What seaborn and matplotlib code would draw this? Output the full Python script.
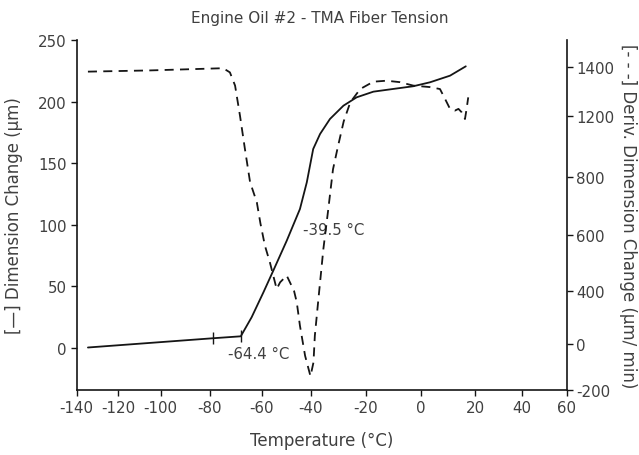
import numpy as np
import pandas as pd
import matplotlib
matplotlib.use("Agg")
import matplotlib.pyplot as plt
import seaborn as sns

# ---------------- data ----------------
temp_ticks = [-140, -120, -100, -80, -60, -40, -20, 0, 20, 40, 60]
dim_ticks = [0, 50, 100, 150, 200, 250]
deriv_ticks = [-200, 0, 400, 600, 800, 1200, 1400]

# solid curve: Dimension Change (um)
dim_temp = [-134.6, -79.0, -68.1, -63.9, -59.3, -55.3, -49.8, -44.4, -41.6, -39.1,
            -36.6, -33.0, -28.1, -23.3, -17.2, -10.0, -2.7, 3.4, 10.8, 16.6]
dim_val = [0.0, 7.5, 9.1, 24.6, 44.9, 62.4, 86.8, 112.6, 134.3, 161.4,
           173.6, 185.8, 196.6, 203.4, 208.0, 210.2, 212.4, 215.6, 221.0, 228.6]

# dashed curve: Deriv. Dimension Change (um/min)
deriv_temp = [-134.6, -105.0, -74.9, -72.3, -70.3, -68.4, -66.5, -64.5, -61.9, -60.5,
              -58.7, -56.6, -53.9, -52.5, -49.8, -46.8, -45.7, -44.4, -42.3, -40.1,
              -39.0, -38.5, -37.2, -35.4, -33.6, -31.9, -30.1, -28.0, -25.6, -22.0,
              -17.2, -12.4, -7.5, -2.7, 3.4, 7.1, 9.0, 10.8, 12.6, 13.9,
              15.1, 16.3, 16.9, 17.5]
deriv_val = [1381, 1386, 1395, 1378, 1324, 1201, 984, 782, 713, 640,
             562, 500, 407, 431, 455, 400, 315, 138, -51, -140,
             -80, 63, 340, 550, 690, 850, 1000, 1165, 1256, 1310,
             1340, 1344, 1338, 1324, 1318, 1310, 1269, 1229, 1222, 1229,
             1215, 1180, 1229, 1276]

# onset analysis marks on the solid curve
mark_temp = [-79.0, -68.1]
mark_val = [7.5, 9.1]

onset_labels = ["-64.4 °C", "-39.5 °C"]
onset_label_temp = [-61.0, -31.5]
onset_label_val = [-4.5, 96.3]

# tick placement along the (non-uniform) printed axes, as axis fractions
temp_tick_frac = [0.0, 0.0849, 0.1714, 0.2720, 0.3776, 0.4776, 0.5898, 0.7020, 0.8129, 0.9082, 1.0]
deriv_tick_frac = [0.0, 0.1314, 0.2829, 0.4429, 0.6086, 0.7829, 0.9229]


def piecewise(kv, kf):
    kv = np.asarray(kv, float)
    kf = np.asarray(kf, float)

    def _map(v, a, b):
        v = np.asarray(v, float)
        out = np.interp(v, a, b)
        s0 = (b[1] - b[0]) / (a[1] - a[0])
        s1 = (b[-1] - b[-2]) / (a[-1] - a[-2])
        out = np.where(v < a[0], b[0] + (v - a[0]) * s0, out)
        out = np.where(v > a[-1], b[-1] + (v - a[-1]) * s1, out)
        return out

    return (lambda v: _map(v, kv, kf)), (lambda f: _map(f, kf, kv))


dim_df = pd.DataFrame({"Temperature": dim_temp, "Dimension": dim_val})
deriv_df = pd.DataFrame({"Temperature": deriv_temp, "Deriv": deriv_val})

sns.set_theme(style="white")
plt.rcParams["font.family"] = ["DejaVu Sans"]
text_c = "#404040"
line_c = "#151515"
fs_tick = 10.8

W, H = 639, 456
fig = plt.figure(figsize=(W / 100, H / 100), dpi=100)
ax = fig.add_axes([76.7 / W, (H - 391) / H, 490 / W, 350 / H])

fx, ix = piecewise(temp_ticks, temp_tick_frac)
ax.set_xscale("function", functions=(fx, ix))

sns.lineplot(data=dim_df, x="Temperature", y="Dimension", ax=ax, color=line_c,
             linewidth=1.3, sort=False, estimator=None)
ax.plot(mark_temp, mark_val, linestyle="none", marker="|", markersize=8,
        markeredgewidth=1.0, color=line_c)

ax2 = ax.twinx()
fy, iy = piecewise(deriv_ticks, deriv_tick_frac)
ax2.set_yscale("function", functions=(fy, iy))
sns.lineplot(data=deriv_df, x="Temperature", y="Deriv", ax=ax2, color=line_c,
             linewidth=1.3, sort=False, estimator=None)
ax2.lines[0].set_dashes((5, 3.5))

ax.set_xlim(-140, 60)
ax.set_ylim(-34.55, 250)
ax2.set_ylim(-200, float(iy(1.0)))

ax.set_xticks(temp_ticks)
ax.set_xticklabels([str(t) for t in temp_ticks])
ax.set_yticks(dim_ticks)
ax.set_yticklabels([str(t) for t in dim_ticks])
ax2.set_yticks(deriv_ticks)
ax2.set_yticklabels([str(t) for t in deriv_ticks])
ax.xaxis.set_minor_locator(matplotlib.ticker.NullLocator())
ax2.yaxis.set_minor_locator(matplotlib.ticker.NullLocator())

for a in (ax, ax2):
    a.tick_params(direction="out", length=4, width=1.0, color=line_c,
                  labelsize=fs_tick, labelcolor=text_c, pad=3)
    for s in a.spines.values():
        s.set_color(line_c)
        s.set_linewidth(1.2)
    a.spines["top"].set_visible(False)
    a.grid(False)
ax.spines["right"].set_visible(False)
ax2.spines["left"].set_visible(False)
ax2.spines["bottom"].set_visible(False)
ax.tick_params(axis="x", bottom=True)
ax.tick_params(axis="y", left=True)
ax2.tick_params(axis="y", right=True)

ax.set_xlabel("Temperature (°C)", fontsize=12, color=text_c)
ax.xaxis.set_label_coords(0.5, -0.143)
ax.xaxis.label.set_va("center")
ax.set_ylabel("[—] Dimension Change (µm)", fontsize=12, color=text_c)
ax.yaxis.set_label_coords(-0.128, 0.5)
ax.yaxis.label.set_va("center")
ax2.set_ylabel("[- - -] Deriv. Dimension Change (µm/ min)", fontsize=12,
               color=text_c, rotation=270)
ax2.yaxis.set_label_coords(1.125, 0.5)
ax2.yaxis.label.set_va("center")

for lab, tx, ty in zip(onset_labels, onset_label_temp, onset_label_val):
    ax.text(tx, ty, lab, ha="center", va="center", fontsize=fs_tick, color=text_c)

fig.text(0.5, 1 - 18 / H, "Engine Oil #2 - TMA Fiber Tension", ha="center",
         va="center", fontsize=11, color=text_c)

fig.savefig("out.png", dpi=100)
